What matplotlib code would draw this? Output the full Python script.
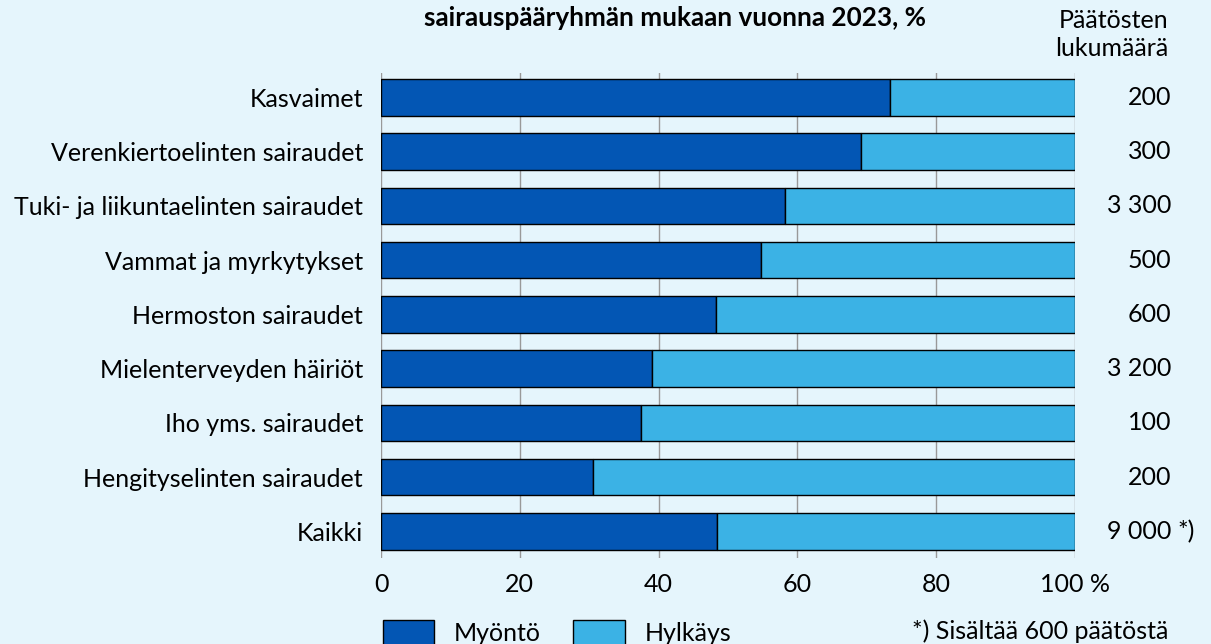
import matplotlib
matplotlib.use("Agg")
import matplotlib.pyplot as plt
from matplotlib.patches import Patch
from matplotlib.transforms import blended_transform_factory

plt.rcParams['font.family'] = ['Lato', 'DejaVu Sans']

categories = ['Kasvaimet', 'Verenkiertoelinten sairaudet', 'Tuki- ja liikuntaelinten sairaudet',
              'Vammat ja myrkytykset', 'Hermoston sairaudet', 'Mielenterveyden häiriöt',
              'Iho yms. sairaudet', 'Hengityselinten sairaudet', 'Kaikki']
myonto = [73.3, 69.1, 58.2, 54.8, 48.3, 39.0, 37.4, 30.6, 48.4]
hylkays = [100 - v for v in myonto]
counts = ['200', '300', '3 300', '500', '600', '3 200', '100', '200', '9 000']
xticks = [0, 20, 40, 60, 80, 100]
xtick_labels = ['0', '20', '40', '60', '80', '100 %']

bg = '#E5F5FC'
dark = '#0356B4'
light = '#3BB2E5'
fs = 18

fig = plt.figure(figsize=(12.11, 6.44), dpi=100, facecolor=bg)
ax = fig.add_axes([381 / 1211, (644 - 558) / 644, (1075 - 381) / 1211, (558 - 73) / 644])
ax.set_facecolor(bg)

y = list(range(len(categories)))
ax.barh(y, myonto, height=0.67, color=dark, edgecolor='black', linewidth=1, zorder=3)
ax.barh(y, hylkays, left=myonto, height=0.67, color=light, edgecolor='black', linewidth=1, zorder=3)

ax.set_xlim(0, 100)
ax.set_ylim(8.49, -0.45)
ax.set_xticks(xticks)
ax.set_xticklabels(xtick_labels)
ax.set_yticks(y)
ax.set_yticklabels(categories)
ax.tick_params(axis='both', length=0, labelsize=fs)
ax.tick_params(axis='x', pad=11)
ax.tick_params(axis='y', pad=13)
ax.grid(axis='x', color='#999999', linewidth=1, zorder=0)
for s in ax.spines.values():
    s.set_visible(False)

# count column on the right
tr = blended_transform_factory(fig.transFigure, ax.transData)
for yi, c in zip(y, counts):
    ax.text(1171 / 1211, yi, c, transform=tr, ha='right', va='center', fontsize=fs)
ax.text(1177 / 1211, y[-1], '*)', transform=tr, ha='left', va='center', fontsize=fs)

fig.text(1168 / 1211, 1 - 21 / 644, 'Päätösten', ha='right', va='center', fontsize=fs)
fig.text(1168 / 1211, 1 - 48 / 644, 'lukumäärä', ha='right', va='center', fontsize=fs)
fig.text(675 / 1211, 1 - 18 / 644, 'sairauspääryhmän mukaan vuonna 2023, %', ha='center', va='center',
         fontsize=18.8, fontweight='bold')

handles = [Patch(facecolor=dark, edgecolor='black', linewidth=1),
           Patch(facecolor=light, edgecolor='black', linewidth=1)]
fig.legend(handles, ['Myöntö', 'Hylkäys'], loc='center left', bbox_to_anchor=(365 / 1211, 1 - 633 / 644),
           ncol=2, frameon=False, fontsize=fs, handlelength=2.05, handleheight=1.25,
           handletextpad=0.8, columnspacing=1.3, borderpad=0.2)
fig.text(1168 / 1211, 1 - 631 / 644, '*) Sisältää 600 päätöstä', ha='right', va='center', fontsize=fs)

fig.savefig('out.png', dpi=100, facecolor=bg)
